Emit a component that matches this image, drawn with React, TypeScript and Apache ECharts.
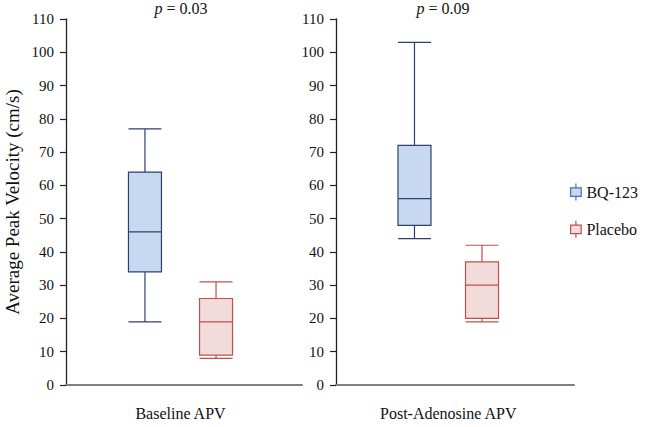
import React, { useEffect, useRef } from "react";
import * as echarts from "echarts";

// ---- data ----
const categories = ["Baseline APV", "Post-Adenosine APV"];
const seriesNames = ["BQ-123", "Placebo"];
// [min, Q1, median, Q3, max]
const bq123Baseline = [19, 34, 46, 64, 77];
const placeboBaseline = [8, 9, 19, 26, 31];
const bq123PostAdenosine = [44, 48, 56, 72, 103];
const placeboPostAdenosine = [19, 20, 30, 37, 42];
const pValues = ["0.03", "0.09"];
const yMin = 0;
const yMax = 110;
const yInterval = 10;

const FONT = "Liberation Serif";
const BQ_FILL = "#c6d9f0";
const BQ_LINE = "#2f3f72";
const PL_FILL = "#f2dcdb";
const PL_LINE = "#c0504d";

export default function App() {
  const ref = useRef<HTMLDivElement>(null);
  useEffect(() => {
    if (!ref.current) return;
    const chart = echarts.init(ref.current, null, { renderer: "svg" });

    const visibleY = (gridIndex: number, withName: boolean) => ({
      type: "value",
      gridIndex,
      min: yMin,
      max: yMax,
      interval: yInterval,
      name: withName ? "Average Peak Velocity (cm/s)" : "",
      nameLocation: "middle",
      nameGap: 44,
      nameTextStyle: { fontFamily: FONT, fontSize: 19, color: "#111" },
      axisLine: { show: true, lineStyle: { color: "#222", width: 1.3 } },
      axisTick: { show: true, length: 6, lineStyle: { color: "#222", width: 1.2 } },
      axisLabel: { fontFamily: FONT, fontSize: 15, color: "#111", margin: 12 },
      splitLine: { show: false },
    });
    const visibleX = (gridIndex: number) => ({
      type: "value",
      gridIndex,
      min: 0,
      max: 1,
      axisLine: { show: true, lineStyle: { color: "#808080", width: 2 } },
      axisTick: { show: false },
      axisLabel: { show: false },
      splitLine: { show: false },
    });
    const boxX = (gridIndex: number, cat: string) => ({
      type: "category",
      gridIndex,
      data: [cat],
      axisLine: { show: false },
      axisTick: { show: false },
      axisLabel: { fontFamily: FONT, fontSize: 16, color: "#111", margin: 20 },
      splitLine: { show: false },
    });
    const boxY = (gridIndex: number) => ({
      type: "value",
      gridIndex,
      min: yMin,
      max: yMax,
      show: false,
    });
    const box = (name: string, idx: number, values: number[], fill: string, line: string) => ({
      name,
      type: "boxplot",
      xAxisIndex: idx,
      yAxisIndex: idx,
      boxWidth: [33, 33],
      data: [values],
      itemStyle: { color: fill, borderColor: line, borderWidth: 1.2 },
      emphasis: { disabled: true },
    });

    const iconPath = "path://M5,0V4M0,4H10V12H0ZM5,12V16";
    const pTitle = (x: number, v: string) => ({
      text: "{i|p} = " + v,
      left: x,
      top: -5,
      textAlign: "center",
      textStyle: {
        fontFamily: FONT,
        fontSize: 16,
        fontWeight: "normal",
        color: "#111",
        rich: {
          i: { fontStyle: "italic", fontFamily: FONT, fontSize: 16, color: "#111" },
        },
      },
    });

    chart.setOption({
      animation: false,
      title: [pTitle(176, pValues[0]), pTitle(438, pValues[1])],
      grid: [
        { left: 66, right: 348, top: 19, bottom: 42 },
        { left: 336, right: 76, top: 19, bottom: 42 },
        { left: 102, width: 157, top: 19, bottom: 42 },
        { left: 373.6, width: 149.3, top: 19, bottom: 42 },
      ],
      xAxis: [visibleX(0), visibleX(1), boxX(2, categories[0]), boxX(3, categories[1])],
      yAxis: [visibleY(0, true), visibleY(1, false), boxY(2), boxY(3)],
      legend: {
        orient: "vertical",
        left: 565,
        top: 178,
        itemGap: 19,
        itemWidth: 11,
        itemHeight: 17,
        icon: iconPath,
        textStyle: { fontFamily: FONT, fontSize: 16, color: "#111" },
        data: [
          { name: seriesNames[0], itemStyle: { color: BQ_FILL, borderColor: "#4a6fb5", borderWidth: 1.2 } },
          { name: seriesNames[1], itemStyle: { color: PL_FILL, borderColor: PL_LINE, borderWidth: 1.2 } },
        ],
      },
      series: [
        box(seriesNames[0], 2, bq123Baseline, BQ_FILL, BQ_LINE),
        box(seriesNames[1], 2, placeboBaseline, PL_FILL, PL_LINE),
        box(seriesNames[0], 3, bq123PostAdenosine, BQ_FILL, BQ_LINE),
        box(seriesNames[1], 3, placeboPostAdenosine, PL_FILL, PL_LINE),
      ],
    });
    return () => chart.dispose();
  }, []);
  return (
    <div
      ref={ref}
      style={{ position: "absolute", left: 0, top: 0, width: 650, height: 427 }}
    />
  );
}
